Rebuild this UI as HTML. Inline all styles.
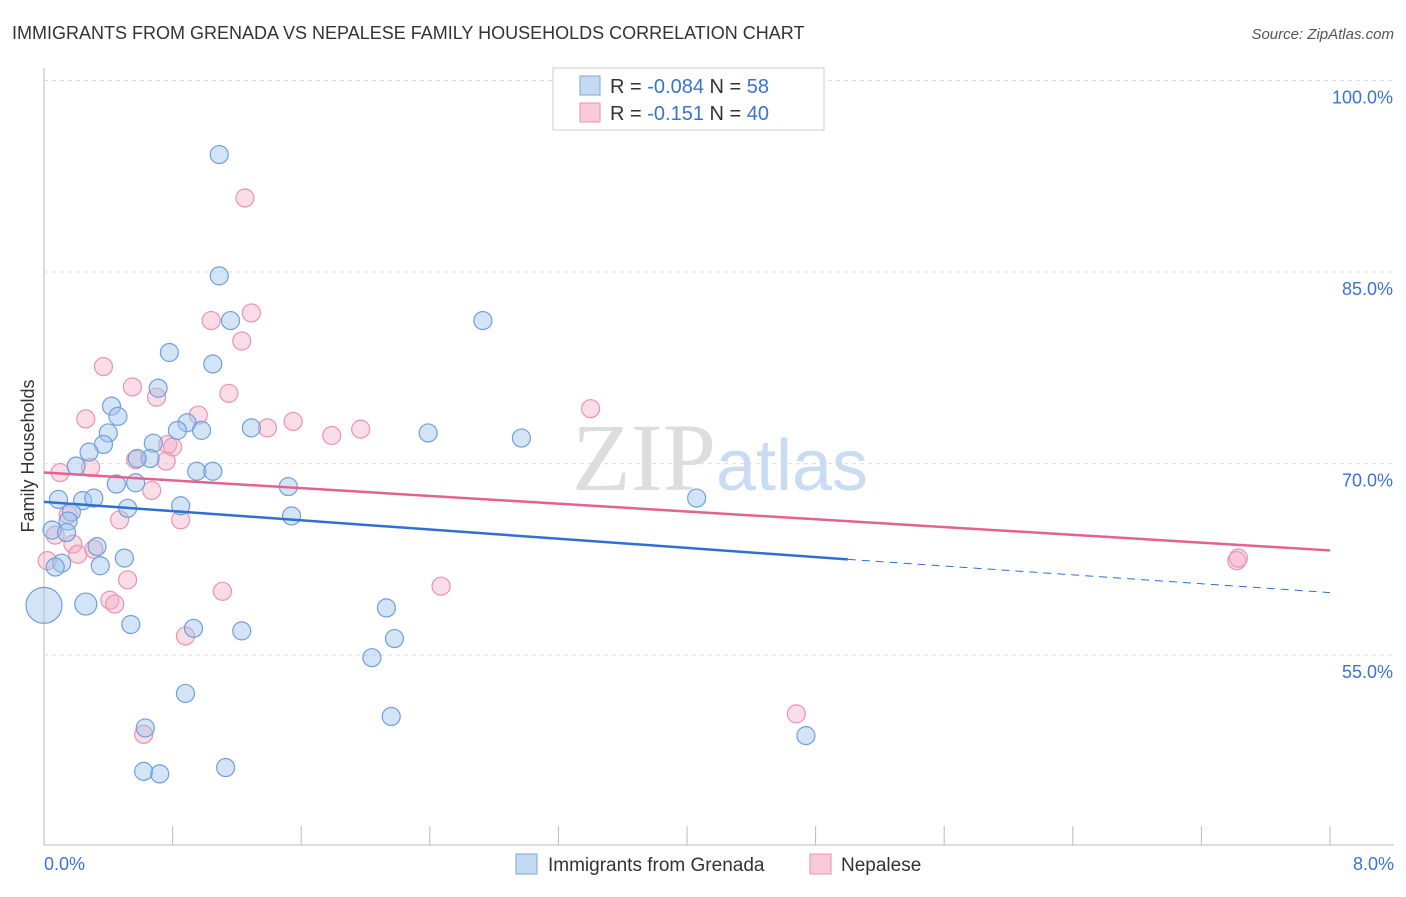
<!DOCTYPE html>
<html><head><meta charset="utf-8"><style>
body{margin:0;background:#fff;font-family:"Liberation Sans",sans-serif}
</style></head><body>
<svg id="chart" width="1406" height="892" xmlns="http://www.w3.org/2000/svg" font-family="Liberation Sans, sans-serif">
<text x="12" y="39" font-size="18" fill="#333">IMMIGRANTS FROM GRENADA VS NEPALESE FAMILY HOUSEHOLDS CORRELATION CHART</text>
<text x="1394" y="39" font-size="15" fill="#555" text-anchor="end" font-style="italic">Source: ZipAtlas.com</text>
<g id="grid"></g>
<text x="720" y="490" font-size="96" text-anchor="middle" fill="#ddd" font-family="Liberation Serif, serif">ZIP<tspan fill="#c9dcf2" font-family="Liberation Sans, sans-serif" font-size="72">atlas</tspan></text>
<g id="marks"></g>
<text transform="translate(34,456) rotate(-90)" font-size="18" fill="#333" text-anchor="middle">Family Households</text>
<g>
<rect x="553" y="68" width="271" height="62" fill="#fff" stroke="#ccc"/>
<rect x="580" y="76" width="20" height="19" fill="#c6d9f3" stroke="#7aa6e0"/>
<rect x="580" y="103" width="20" height="19" fill="#f9cad8" stroke="#eb93b0"/>
<text x="610" y="93" font-size="20" fill="#333">R = <tspan fill="#3a74d0">-0.084</tspan>   N =  <tspan fill="#3a74d0">58</tspan></text>
<text x="610" y="120" font-size="20" fill="#333">R =   <tspan fill="#3a74d0">-0.151</tspan>   N = <tspan fill="#3a74d0">40</tspan></text>
</g>
<g>
<rect x="516" y="854" width="21" height="20" fill="#c6d9f3" stroke="#7aa6e0"/>
<text x="548" y="871" font-size="19" fill="#333">Immigrants from Grenada</text>
<rect x="810" y="854" width="21" height="20" fill="#f9cad8" stroke="#eb93b0"/>
<text x="841" y="871" font-size="19" fill="#333">Nepalese</text>
</g>
</svg>
<script>
const yTicks=[55,70,85,100];
const yTickLabels=["55.0%","70.0%","85.0%","100.0%"];
const xTicks=[0,0.8,1.6,2.4,3.2,4,4.8,5.6,6.4,7.2,8];
const blueX=[1.09,1.09,1.16,2.73,0.78,1.05,0.71,0.42,0.46,0.89,0.98,0.83,1.29,0.40,2.39,2.97,0.37,0.68,0.28,0.66,0.58,0.20,0.95,1.05,0.45,0.57,1.52,0.09,0.24,0.31,0.85,4.06,0.52,0.17,0.15,1.54,0.05,0.14,0.33,0.50,0.35,0.11,0.07,0.0,0.26,2.13,0.54,0.93,1.23,2.18,2.04,0.88,2.16,0.63,4.74,0.62,0.72,1.13];
const blueY=[94.2,84.7,81.2,81.2,78.7,77.8,75.9,74.5,73.7,73.2,72.6,72.6,72.8,72.4,72.4,72.0,71.5,71.6,70.9,70.4,70.4,69.8,69.4,69.4,68.4,68.5,68.2,67.2,67.1,67.3,66.7,67.3,66.5,66.2,65.5,65.9,64.8,64.6,63.5,62.6,62.0,62.2,61.9,58.9,59.0,58.7,57.4,57.1,56.9,56.3,54.8,52.0,50.2,49.3,48.7,45.9,45.7,46.2];
const blueR=[9,9,9,9,9,9,9,9,9,9,9,9,9,9,9,9,9,9,9,9,9,9,9,9,9,9,9,9,9,9,9,9,9,9,9,9,9,9,9,9,9,9,9,18,11,9,9,9,9,9,9,9,9,9,9,9,9,9];
const pinkX=[1.25,1.29,1.04,1.23,0.37,0.55,0.70,1.15,0.96,0.26,1.55,1.39,1.79,1.97,3.40,0.77,0.80,0.76,0.57,0.29,0.10,0.67,0.47,0.85,0.15,0.07,0.18,0.31,0.21,0.02,0.52,1.11,2.47,0.41,0.44,0.88,0.62,4.68,7.42,7.43];
const pinkY=[90.8,81.8,81.2,79.6,77.6,76.0,75.2,75.5,73.8,73.5,73.3,72.8,72.2,72.7,74.3,71.5,71.3,70.2,70.3,69.7,69.3,67.9,65.6,65.6,66.0,64.4,63.7,63.3,62.9,62.4,60.9,60.0,60.4,59.3,59.0,56.5,48.8,50.4,62.4,62.6];
const blueTrend=[[0,67.0],[5.0,62.5]];
const blueDash=[[5.0,62.5],[8.0,59.9]];
const pinkTrend=[[0,69.3],[8.0,63.2]];
const X0=44,X1=1330,Y0=80.5;
const sx=v=>X0+(X1-X0)*v/8;
const sy=v=>Y0+(100-v)*12.77;
const NS="http://www.w3.org/2000/svg";
const grid=document.getElementById('grid'),marks=document.getElementById('marks');
function mk(tag,attrs,parent){const e=document.createElementNS(NS,tag);for(const k in attrs)e.setAttribute(k,attrs[k]);parent.appendChild(e);return e;}
const ax=mk('line',{x1:X0,y1:68,x2:X0,y2:845,stroke:'#bbb'},grid);


const bx=mk('line',{x1:X0,y1:845,x2:1394,y2:845,stroke:'#bbb'},grid);


yTicks.forEach((t,i)=>{
 const l=mk('line',{x1:X0,y1:sy(t),x2:1394,y2:sy(t),stroke:'#ddd','stroke-dasharray':'4,4'},grid);
 
 
 const tx=mk('text',{x:1393,y:sy(t)+23,'font-size':18,fill:'#3a74d0','text-anchor':'end'},grid);
 tx.textContent=yTickLabels[i];
 
 
});
xTicks.forEach(t=>{
 const l=mk('line',{x1:sx(t),y1:826,x2:sx(t),y2:845,stroke:'#bbb'},grid);
 
 
});
[[0,"0.0%",'start',44],[8,"8.0%",'end',1394]].forEach(a=>{
 const tx=mk('text',{x:a[3],y:870,'font-size':18,fill:'#3a74d0','text-anchor':a[2]},grid);
 tx.textContent=a[1];
 
 
});
pinkX.forEach((v,i)=>{
 const c=mk('circle',{cx:sx(v),cy:sy(pinkY[i]),r:9,fill:'rgba(246,170,195,0.4)',stroke:'#eb93b0','stroke-width':1.2},marks);
 
 
});
blueX.forEach((v,i)=>{
 const c=mk('circle',{cx:sx(v),cy:sy(blueY[i]),r:blueR[i],fill:'rgba(160,195,238,0.45)',stroke:'#6f9fdc','stroke-width':1.2},marks);
 
 
});
const l1=mk('line',{x1:sx(blueTrend[0][0]),y1:sy(blueTrend[0][1]),x2:sx(blueTrend[1][0]),y2:sy(blueTrend[1][1]),stroke:'#2f6fd6','stroke-width':2.5},marks);


const l2=mk('line',{x1:sx(blueDash[0][0]),y1:sy(blueDash[0][1]),x2:sx(blueDash[1][0]),y2:sy(blueDash[1][1]),stroke:'#2f6fd6','stroke-width':1,'stroke-dasharray':'8,6'},marks);


const l3=mk('line',{x1:sx(pinkTrend[0][0]),y1:sy(pinkTrend[0][1]),x2:sx(pinkTrend[1][0]),y2:sy(pinkTrend[1][1]),stroke:'#e5628e','stroke-width':2.5},marks);


</script>
</body></html>
